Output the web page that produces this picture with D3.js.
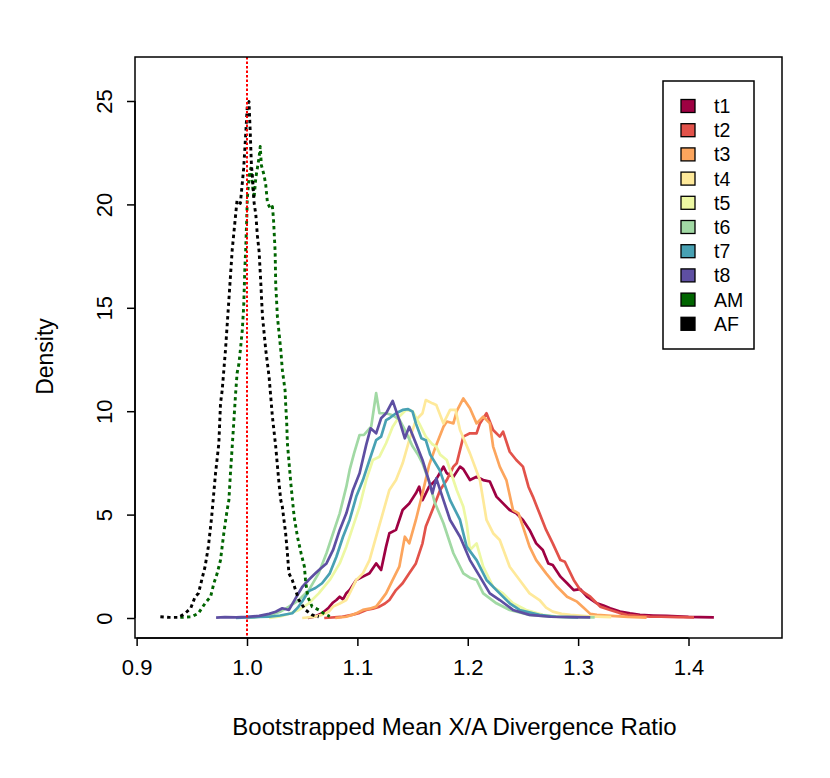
<!DOCTYPE html>
<html>
<head>
<meta charset="utf-8">
<script src="https://cdn.jsdelivr.net/npm/d3@7"></script>
<style>
  body { margin: 0; background: #fff; }
  svg { display: block; font-family: "Liberation Sans", Arial, Helvetica, sans-serif; }
  .curve { fill: none; stroke-width: 2.7; stroke-linejoin: round; }
  .dotted { stroke-dasharray: 3.4,3.4; stroke-width: 2.9; }
</style>
</head>
<body>
<div id="chart"></div>
<script>
// series names and colours (Spectral ramp, 8 steps + AM / AF)
var seriesNames = ["t1", "t2", "t3", "t4", "t5", "t6", "t7", "t8", "AM", "AF"];
var seriesColors = ["#9E0142", "#E2524A", "#FCA55D", "#FEE99A", "#EDF8A3",
                    "#A1D9A4", "#48A1B3", "#5E4FA2", "#006400", "#000000"];

// density curves: [ratio, density]
var t1 = [[1.055,0],[1.062,0.08],[1.068,0.23],[1.074,0.5],[1.078,0.75],[1.081,0.87],[1.084,1.03],[1.087,0.9],
  [1.090,1.2],[1.093,1.35],[1.099,1.84],[1.105,2.0],[1.111,2.16],[1.117,2.64],[1.1215,2.32],[1.126,3.45],
  [1.129,4.1],[1.135,4.26],[1.141,5.22],[1.147,5.54],[1.153,6.03],[1.156,6.35],[1.159,5.7],[1.165,6.35],
  [1.171,6.67],[1.178,7.32],[1.181,7.0],[1.187,6.83],[1.193,7.32],[1.196,7.2],[1.202,6.67],[1.208,6.83],
  [1.214,6.67],[1.220,6.6],[1.226,5.87],[1.232,5.54],[1.238,5.22],[1.244,5.06],[1.250,4.74],[1.256,4.26],
  [1.262,3.61],[1.268,3.29],[1.273,2.64],[1.277,2.56],[1.284,2.0],[1.290,1.68],[1.296,1.35],[1.302,1.4],
  [1.308,1.03],[1.317,0.71],[1.323,0.6],[1.329,0.47],[1.338,0.31],[1.347,0.22],[1.356,0.15],[1.368,0.12],
  [1.38,0.1],[1.39,0.08],[1.40,0.05],[1.41,0.04],[1.423,0.03]];
var t2 = [[1.07,0],[1.085,0.05],[1.095,0.15],[1.102,0.25],[1.108,0.39],[1.114,0.45],[1.120,0.55],[1.125,0.7],
  [1.129,0.87],[1.135,1.35],[1.141,1.68],[1.147,2.16],[1.153,2.64],[1.159,3.61],[1.162,4.42],[1.168,5.22],
  [1.175,6.19],[1.181,6.67],[1.187,7.32],[1.19,7.48],[1.196,8.77],[1.202,8.93],[1.208,8.93],[1.211,9.41],
  [1.217,9.9],[1.223,9.09],[1.229,8.77],[1.232,9.01],[1.238,8.04],[1.244,7.64],[1.250,7.32],[1.255,6.35],
  [1.259,5.87],[1.265,5.06],[1.271,4.26],[1.277,3.61],[1.284,2.8],[1.288,2.72],[1.296,1.84],[1.302,1.35],
  [1.311,1.03],[1.320,0.55],[1.329,0.39],[1.337,0.25],[1.344,0.15],[1.355,0.1],[1.365,0.07],[1.375,0.06],
  [1.39,0.04],[1.405,0.03]];
var t3 = [[1.08,0],[1.09,0.06],[1.098,0.2],[1.105,0.39],[1.111,0.45],[1.117,0.55],[1.122,0.9],[1.126,1.19],
  [1.132,1.84],[1.138,2.48],[1.143,3.93],[1.147,3.61],[1.153,4.74],[1.159,6.03],[1.165,7.4],[1.1715,8.37],
  [1.178,9.25],[1.181,9.5],[1.187,9.41],[1.190,10.0],[1.196,10.62],[1.202,10.14],[1.208,9.41],[1.214,9.74],
  [1.220,9.41],[1.223,8.29],[1.229,7.32],[1.235,6.67],[1.241,5.22],[1.246,5.06],[1.250,4.42],[1.256,3.45],
  [1.262,2.8],[1.271,2.16],[1.281,1.51],[1.290,1.03],[1.299,0.79],[1.305,0.5],[1.311,0.2],[1.317,0.15],
  [1.33,0.1],[1.345,0.05],[1.362,0.02]];
var t4 = [[1.05,0],[1.06,0.05],[1.068,0.15],[1.074,0.3],[1.078,0.55],[1.084,0.7],[1.09,0.87],[1.094,1.3],
  [1.099,1.84],[1.105,2.16],[1.111,2.8],[1.117,3.93],[1.123,5.06],[1.129,6.19],[1.135,6.67],[1.141,7.48],
  [1.147,8.6],[1.153,9.57],[1.159,9.9],[1.162,10.54],[1.168,10.38],[1.1715,10.3],[1.178,9.41],[1.184,10.06],
  [1.189,10.06],[1.193,9.09],[1.202,7.96],[1.211,6.67],[1.217,4.74],[1.223,4.1],[1.229,3.77],[1.238,2.48],
  [1.247,1.84],[1.256,1.19],[1.265,0.87],[1.271,0.5],[1.277,0.31],[1.285,0.2],[1.293,0.15],[1.31,0.08],
  [1.33,0.04]];
var t5 = [[1.02,0],[1.03,0.08],[1.038,0.2],[1.047,0.39],[1.056,0.71],[1.065,1.19],[1.075,1.84],[1.084,2.64],
  [1.09,3.45],[1.096,4.42],[1.102,5.38],[1.108,6.67],[1.114,7.64],[1.120,7.8],[1.126,8.45],[1.132,9.25],
  [1.138,9.74],[1.144,10.06],[1.150,10.0],[1.156,9.41],[1.162,8.77],[1.168,8.4],[1.1715,8.29],[1.175,7.9],
  [1.181,7.64],[1.190,6.19],[1.196,5.38],[1.199,4.58],[1.202,3.29],[1.208,3.61],[1.214,2.48],[1.223,1.51],
  [1.232,1.19],[1.241,0.71],[1.253,0.39],[1.268,0.15],[1.283,0.06],[1.30,0.03]];
var t6 = [[1.0,0],[1.01,0.05],[1.02,0.12],[1.03,0.3],[1.038,0.55],[1.047,0.87],[1.056,1.35],[1.065,2.17],
  [1.072,3.13],[1.078,4.1],[1.084,5.06],[1.090,6.35],[1.093,7.16],[1.097,7.96],[1.102,8.85],[1.106,8.85],
  [1.1125,9.25],[1.117,10.87],[1.120,9.9],[1.126,9.9],[1.132,9.8],[1.138,9.6],[1.144,9.0],[1.150,8.3],
  [1.155,7.9],[1.159,7.48],[1.165,6.6],[1.170,5.6],[1.178,4.58],[1.187,3.13],[1.196,2.16],[1.202,1.95],
  [1.208,1.84],[1.214,1.19],[1.226,0.71],[1.238,0.39],[1.256,0.15],[1.275,0.07],[1.295,0.04],[1.315,0.03]];
var t7 = [[0.99,0],[1.0,0.03],[1.01,0.05],[1.02,0.06],[1.03,0.12],[1.036,0.18],[1.041,0.23],[1.046,0.5],
  [1.05,0.8],[1.056,1.3],[1.062,1.45],[1.068,1.68],[1.075,2.16],[1.081,2.96],[1.087,3.93],[1.093,4.74],
  [1.099,5.87],[1.105,6.67],[1.111,7.64],[1.117,8.6],[1.1215,8.77],[1.126,9.57],[1.129,9.66],[1.135,9.9],
  [1.141,10.06],[1.146,10.1],[1.150,9.98],[1.153,9.41],[1.158,8.69],[1.162,8.6],[1.166,7.9],[1.1745,7.16],
  [1.184,5.7],[1.193,4.74],[1.199,3.45],[1.208,2.8],[1.217,1.84],[1.226,1.35],[1.238,0.71],[1.247,0.39],
  [1.265,0.15],[1.28,0.06],[1.30,0.03]];
var t8 = [[0.972,0.02],[0.98,0.04],[0.99,0.03],[1.0,0.05],[1.011,0.1],[1.02,0.2],[1.026,0.3],[1.032,0.47],
  [1.038,0.39],[1.044,0.95],[1.05,1.5],[1.056,1.85],[1.062,2.16],[1.067,2.4],[1.072,2.64],[1.078,3.29],
  [1.084,4.26],[1.09,5.06],[1.096,6.19],[1.102,7.0],[1.108,8.37],[1.112,9.17],[1.117,8.93],[1.1215,9.66],
  [1.126,9.9],[1.132,10.5],[1.138,9.57],[1.143,8.69],[1.147,9.25],[1.153,8.45],[1.159,7.64],[1.165,6.6],
  [1.168,6.03],[1.1715,6.75],[1.178,5.7],[1.184,4.74],[1.193,3.93],[1.202,2.8],[1.211,2.0],[1.220,1.19],
  [1.229,0.87],[1.241,0.39],[1.256,0.15],[1.275,0.06],[1.295,0.04],[1.311,0.03]];
var AM = [[0.9395,0.03],[0.950,0.06],[0.956,0.23],[0.962,0.71],[0.967,1.03],[0.970,1.68],[0.973,2.16],
  [0.976,2.8],[0.979,4.1],[0.982,5.22],[0.9836,5.7],[0.985,7.0],[0.9866,8.29],[0.9897,10.87],[0.991,11.83],
  [0.9927,12.3],[0.994,12.96],[0.9957,13.9],[0.997,15.05],[0.998,16.8],[0.9988,17.8],[0.9997,19.2],
  [1.0003,20.3],[1.0018,21.3],[1.0034,21.75],[1.005,20.94],[1.0064,20.3],[1.008,21.3],[1.0094,21.75],
  [1.011,22.3],[1.012,22.8],[1.013,21.9],[1.0155,21.4],[1.017,20.94],[1.0185,20.1],[1.021,19.8],[1.023,19.9],
  [1.024,19.3],[1.0255,17.7],[1.026,16.2],[1.0275,14.6],[1.0306,12.96],[1.032,12.0],[1.0345,11.0],
  [1.035,10.38],[1.036,9.41],[1.0366,8.45],[1.0397,6.51],[1.0427,4.9],[1.0457,3.93],[1.049,3.13],
  [1.052,2.48],[1.053,1.84],[1.055,1.03],[1.059,0.55],[1.065,0.39],[1.07,0.2],[1.075,0.08]];
var AF = [[0.9215,0.06],[0.93,0.03],[0.938,0.03],[0.944,0.23],[0.949,0.47],[0.953,1.03],[0.956,1.19],
  [0.959,1.84],[0.962,2.48],[0.965,3.45],[0.968,4.9],[0.9715,7.0],[0.9745,8.45],[0.976,10.38],[0.9775,11.0],
  [0.9805,12.96],[0.9836,15.4],[0.9866,17.8],[0.9897,19.5],[0.991,20.2],[0.994,20.05],[0.997,21.75],
  [0.9988,23.36],[1.0003,24.8],[1.0018,24.97],[1.003,23.4],[1.004,21.9],[1.005,21.3],[1.0064,20.1],
  [1.008,19.5],[1.0094,18.5],[1.011,17.7],[1.0125,16.2],[1.014,14.6],[1.017,12.96],[1.02,11.67],
  [1.023,9.74],[1.026,8.3],[1.029,6.51],[1.0306,5.7],[1.032,5.38],[1.035,4.1],[1.0366,3.13],[1.038,2.16],
  [1.041,1.84],[1.044,1.35],[1.047,0.87],[1.053,0.39],[1.059,0.15],[1.065,0.06]];

var curves = [t1, t2, t3, t4, t5, t6, t7, t8, AM, AF];
var xTicks = [0.9, 1.0, 1.1, 1.2, 1.3, 1.4];
var yTicks = [0, 5, 10, 15, 20, 25];
var refLine = 1.0;

var width = 830, height = 778;
var box = {left: 135, right: 782, top: 57, bottom: 638};

var x = d3.scaleLinear().domain([1.0, 1.4]).range([247, 688.5]);
var y = d3.scaleLinear().domain([0, 25]).range([618, 101]);

var svg = d3.select("#chart")
    .append("svg")
    .attr("width", width)
    .attr("height", height);

svg.append("clipPath").attr("id", "plotclip")
    .append("rect")
    .attr("x", box.left).attr("y", box.top)
    .attr("width", box.right - box.left).attr("height", box.bottom - box.top);

var plot = svg.append("g").attr("clip-path", "url(#plotclip)");

var line = d3.line()
    .x(function(d) { return x(d[0]); })
    .y(function(d) { return y(d[1]); });

// draw curves
plot.selectAll("path.curve")
    .data(curves)
    .enter()
    .append("path")
    .attr("class", function(d, i) { return i >= 8 ? "curve dotted" : "curve"; })
    .attr("stroke", function(d, i) { return seriesColors[i]; })
    .attr("d", line);

// reference line at 1.0
plot.append("line")
    .attr("x1", x(refLine)).attr("x2", x(refLine))
    .attr("y1", box.top).attr("y2", box.bottom)
    .attr("stroke", "#FF0000")
    .attr("stroke-width", 2)
    .attr("stroke-dasharray", "2.5,2");

// box
svg.append("rect")
    .attr("x", box.left).attr("y", box.top)
    .attr("width", box.right - box.left).attr("height", box.bottom - box.top)
    .attr("fill", "none").attr("stroke", "#000").attr("stroke-width", 1.5);

// axes
var xAxis = d3.axisBottom(x).tickValues(xTicks).tickSize(8).tickPadding(8)
    .tickFormat(d3.format(".1f"));
var gx = svg.append("g")
    .attr("transform", "translate(0," + box.bottom + ")")
    .call(xAxis);
gx.select(".domain").attr("d", "M" + x(xTicks[0]) + ",0H" + x(xTicks[xTicks.length - 1]))
    .attr("stroke-width", 1.5);
gx.selectAll(".tick line").attr("stroke-width", 1.5);
gx.selectAll(".tick text").attr("font-size", 22).attr("font-family", null).attr("dy", "0.95em");

var yAxis = d3.axisLeft(y).tickValues(yTicks).tickSize(8).tickFormat(d3.format("d"));
var gy = svg.append("g")
    .attr("transform", "translate(" + box.left + ",0)")
    .call(yAxis);
gy.select(".domain").attr("d", "M0," + y(yTicks[0]) + "V" + y(yTicks[yTicks.length - 1]))
    .attr("stroke-width", 1.5);
gy.selectAll(".tick line").attr("stroke-width", 1.5);
gy.selectAll(".tick text")
    .attr("font-size", 22).attr("font-family", null)
    .attr("x", null).attr("dy", null)
    .attr("text-anchor", "middle")
    .attr("transform", "translate(-23,0) rotate(-90)");

// axis titles
svg.append("text")
    .attr("x", (box.left + box.right) / 2 - 4)
    .attr("y", 735)
    .attr("text-anchor", "middle")
    .attr("font-size", 24)
    .text("Bootstrapped Mean X/A Divergence Ratio");

svg.append("text")
    .attr("transform", "translate(53," + ((box.top + box.bottom) / 2 + 9) + ") rotate(-90)")
    .attr("text-anchor", "middle")
    .attr("font-size", 23)
    .text("Density");

// legend
var legend = svg.append("g").attr("transform", "translate(663,81)");
legend.append("rect")
    .attr("width", 91).attr("height", 268)
    .attr("fill", "#fff").attr("stroke", "#000").attr("stroke-width", 1.5);
var items = legend.selectAll("g.item")
    .data(seriesNames)
    .enter()
    .append("g")
    .attr("class", "item")
    .attr("transform", function(d, i) { return "translate(0," + (25 + i * 24.2) + ")"; });
items.append("rect")
    .attr("x", 18).attr("y", -6.5)
    .attr("width", 14).attr("height", 13)
    .attr("fill", function(d, i) { return seriesColors[i]; })
    .attr("stroke", "#000").attr("stroke-width", 1.3);
items.append("text")
    .attr("x", 51).attr("y", 7)
    .attr("font-size", 19.5)
    .text(function(d) { return d; });
</script>
</body>
</html>
